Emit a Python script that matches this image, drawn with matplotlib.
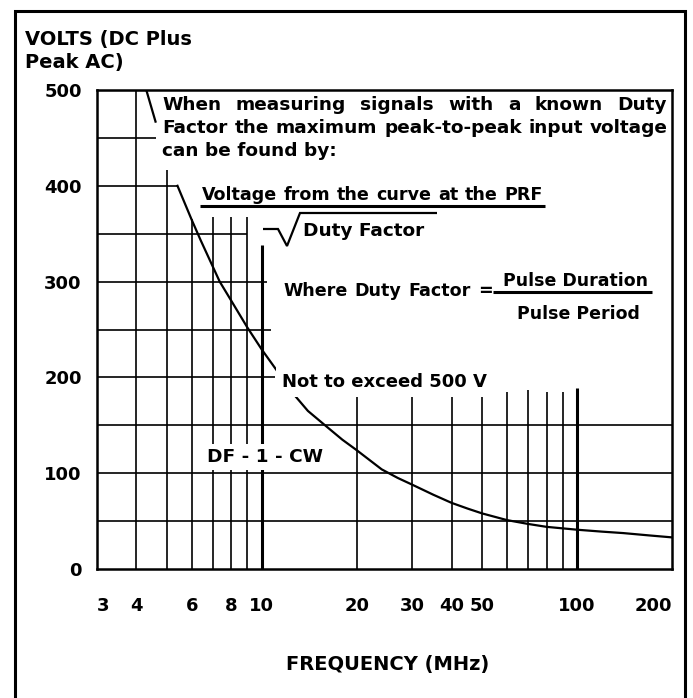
import numpy as np
import matplotlib
matplotlib.use("Agg")
import matplotlib.pyplot as plt
from matplotlib.lines import Line2D
from matplotlib.patches import Rectangle
from matplotlib.ticker import NullLocator

# derating curve (nan = where the curve is broken under the note)
freq_mhz = [3, 4.3, 4.6, 4.9, 5.4, 6.0, 6.4, 7.35, 8, 9, 10, 11, 12.5, 14, 16, 18, 20, 24, 27,
            30, 35, 40, 45, 50, 60, 70, 80, 100, 120, 140, 170, 200]
volts = [500, 500, 467, np.nan, 400, 364, 343, 300, 280, 252, 229, 210, 184, 165, 149, 135, 124, 104, 95,
         88, 77.5, 69, 63, 58, 51, 47, 44, 41, 39, 37.5, 35, 33]

x_ticks = [3, 4, 6, 8, 10, 20, 30, 40, 50, 100, 200]
x_tick_labels = ["3", "4", "6", "8", "10", "20", "30", "40", "50", "100", "200"]
y_ticks = [0, 100, 200, 300, 400, 500]

# grid lines only run as far as the printed notes leave room
h_grid_volts = [50, 100, 150, 200, 250, 300, 350, 400, 450]
h_grid_end_mhz = [200, 200, 200, 11.0, 10.7, 10.4, 9.0, 5.4, 4.6]
v_grid_mhz = [4, 5, 6, 7, 8, 9, 10, 20, 30, 40, 50, 60, 70, 80, 90, 100]
v_grid_top = [500, 416, 365, 367, 367, 367, 338, 184, 185, 185, 187, 185, 187, 185, 185, 189]

plt.rcParams["font.family"] = "DejaVu Sans"
plt.rcParams["font.weight"] = "bold"
plt.rcParams["font.size"] = 13

W, H = 693, 698
fig = plt.figure(figsize=(W / 100, H / 100), dpi=100)
renderer = fig.canvas.get_renderer()
NOTE = 13.3


def px_text(x, y, s, **kw):
    return fig.text(x / W, 1 - y / H, s, va="baseline", **kw)


def px_line(xs, ys, lw):
    fig.add_artist(Line2D([x / W for x in xs], [1 - y / H for y in ys],
                          transform=fig.transFigure, color="black", lw=lw,
                          solid_capstyle="butt", solid_joinstyle="miter"))


def spread(words, x0, x1, y, **kw):
    # justified line: words stretched between x0 and x1
    items = [px_text(0, y, w, **kw) for w in words]
    widths = [t.get_window_extent(renderer).width for t in items]
    gap = (x1 - x0 - sum(widths)) / (len(words) - 1)
    x = x0
    for t, w in zip(items, widths):
        t.set_x(x / W)
        x += w + gap


# outer frame
fig.add_artist(Rectangle((15 / W, -20 / H), 670 / W, (698 + 20 - 11) / H,
                         transform=fig.transFigure, fill=False, lw=2.2, ec="black"))

ax = fig.add_axes([97 / W, (H - 569) / H, 575 / W, 479 / H])
ax.set_xscale("log")
ax.set_xlim(3, 200)
ax.set_ylim(0, 500)

for v, end in zip(h_grid_volts, h_grid_end_mhz):
    ax.plot([3, end], [v, v], color="black", lw=1.2, solid_capstyle="butt")
for f, top in zip(v_grid_mhz, v_grid_top):
    lw = 2.2 if f in (10, 100) else 1.2
    ax.plot([f, f], [0, top], color="black", lw=lw, solid_capstyle="butt")

ax.plot(freq_mhz, volts, color="black", lw=1.6, solid_joinstyle="round")

for s in ax.spines.values():
    s.set_linewidth(1.8)

ax.set_xticks(x_ticks)
ax.set_xticklabels(x_tick_labels)
ax.xaxis.set_minor_locator(NullLocator())
ax.set_yticks(y_ticks)
ax.tick_params(axis="x", length=0, pad=20)
ax.tick_params(axis="y", length=0, pad=11)
labels = ax.get_xticklabels()
labels[0].set_ha("left")
labels[-1].set_ha("right")

ax.set_xlabel("FREQUENCY (MHz)", fontsize=14, fontweight="bold", va="center")
ax.xaxis.set_label_coords(0.505, -0.2)

px_text(25, 45, "VOLTS (DC Plus", fontsize=14)
px_text(25, 68, "Peak AC)", fontsize=14)

# note box
spread("When measuring signals with a known Duty".split(), 162, 667, 110, fontsize=NOTE)
spread("Factor the maximum peak-to-peak input voltage".split(), 162, 668, 133, fontsize=NOTE)
px_text(162, 156, "can be found by:", fontsize=NOTE)

spread("Voltage from the curve at the PRF".split(), 202, 543, 200, fontsize=12.6)
px_line([200, 545], [206, 206], 2.2)
px_line([263, 278, 287, 300, 437], [229, 229, 246, 213, 213], 1.6)
px_text(303, 236, "Duty Factor", fontsize=NOTE)

spread("Where Duty Factor =".split(), 283, 493, 296, fontsize=12.6)
px_text(503, 286, "Pulse Duration", fontsize=12.5)
px_line([493, 652], [292, 292], 2.2)
px_text(517, 319, "Pulse Period", fontsize=12.5)

px_text(282, 387, "Not to exceed 500 V", fontsize=13,
        bbox=dict(facecolor="white", edgecolor="none", pad=4))
px_text(207, 462, "DF - 1 - CW", fontsize=NOTE,
        bbox=dict(facecolor="white", edgecolor="none", pad=3))

fig.savefig("out.png", dpi=100)
